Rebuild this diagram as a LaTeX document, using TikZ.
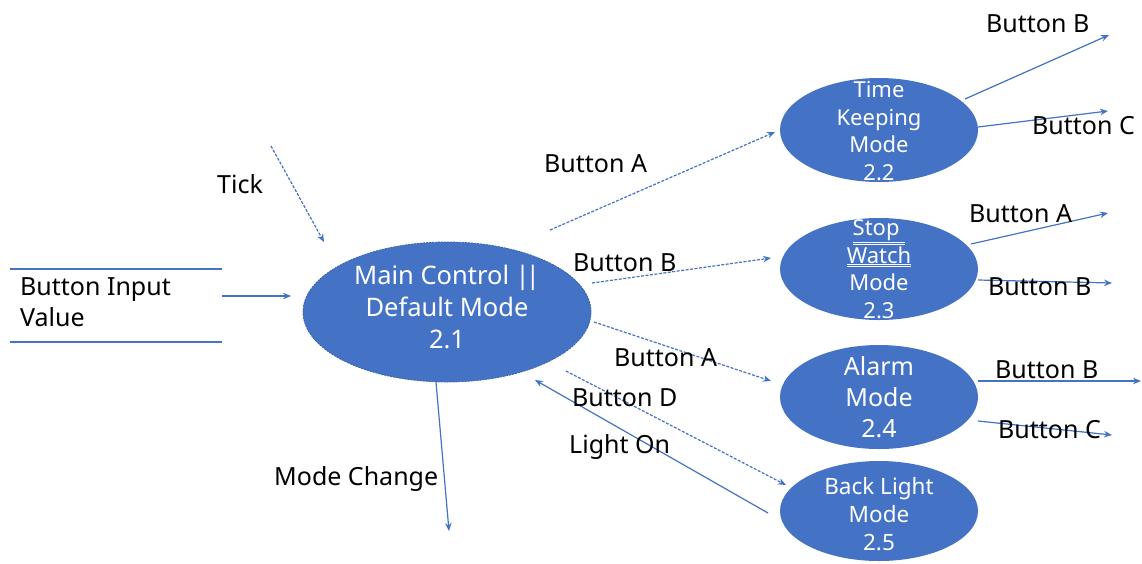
\documentclass[tikz,border=0pt]{standalone}
\usepackage{fontspec}
\setmainfont{Noto Sans}
\usetikzlibrary{arrows.meta,shapes.geometric}
\definecolor{blu}{HTML}{4472C4}
\definecolor{bord}{HTML}{3A62AC}
\begin{document}
\begin{tikzpicture}[x=1pt,y=-1pt,
  proc/.style={ellipse,fill=blu,inner sep=0pt},
  mainproc/.style={proc,draw=bord,line width=0.8pt,dash pattern=on 2pt off 1pt},
  wtxt/.style={text=white,font=\fontsize{22}{27.5}\selectfont,align=center,inner sep=0pt},
  btxt/.style={text=black,font=\fontsize{25}{31}\selectfont,inner sep=0pt,anchor=west},
  flow/.style={draw=blu,line width=1.2pt,-{Stealth[length=8pt,width=6.5pt]}},
  dflow/.style={flow,dash pattern=on 3pt off 1.5pt},
  rule/.style={draw=blu,line width=1.3pt}]
\useasboundingbox (0,0) rectangle (1142,563);

% processes
\node[mainproc,minimum width=288pt,minimum height=140pt] (main) at (447,312) {};
\node[wtxt,font=\fontsize{25.5}{32}\selectfont] (maint) at (447,307) {Main Control |\kern-4pt|\\Default Mode\\2.1};
\node[proc,minimum width=198pt,minimum height=104pt] (tk) at (879,130) {};
\node[wtxt] (tkt) at (879,131) {Time\\Keeping\\Mode\\2.2};
\node[proc,minimum width=198pt,minimum height=102pt] (sw) at (879,269) {};
\node[wtxt] (swt) at (879,269) {\underline{\underline{Stop\ }}\\\underline{\underline{Watch}}\\Mode\\2.3};
\node[proc,minimum width=198pt,minimum height=104pt] (al) at (879,397) {};
\node[wtxt,font=\fontsize{25}{31}\selectfont] (alt) at (879,397) {Alarm\\Mode\\2.4};
\node[proc,minimum width=198pt,minimum height=100pt] (bl) at (879,511) {};
\node[wtxt,font=\fontsize{22.5}{28}\selectfont] (blt) at (879,514) {Back Light\\Mode\\2.5};

% external entity
\coordinate (e1) at (10,269); \coordinate (e2) at (222,269);
\coordinate (e3) at (10,342); \coordinate (e4) at (222,342);
\draw[rule] (e1) -- (e2);
\draw[rule] (e3) -- (e4);
\node[btxt,align=left,anchor=north west] (bin) at (20,277) {Button Input\\Value};

% coordinates
\coordinate (bi1) at (222,296); \coordinate (bi2) at (291,296);
\coordinate (tk1) at (271,146); \coordinate (tk2) at (324,242);
\coordinate (a1) at (550,230); \coordinate (a2) at (775,132);
\coordinate (b1) at (592,283); \coordinate (b2) at (771,258);
\coordinate (c1) at (594,322); \coordinate (c2) at (771,381);
\coordinate (d1) at (566,371); \coordinate (d2) at (786,485);
\coordinate (l1) at (768,513); \coordinate (l2) at (535,380);
\coordinate (m1) at (436,382); \coordinate (m2) at (449,531);
\coordinate (tb1) at (965,99); \coordinate (tb2) at (1109,35);
\coordinate (tc1) at (978,127); \coordinate (tc2) at (1108,111);
\coordinate (sa1) at (971,244); \coordinate (sa2) at (1108,213);
\coordinate (sb1) at (978,280); \coordinate (sb2) at (1112,283);
\coordinate (ab1) at (978,381); \coordinate (ab2) at (1141,381);
\coordinate (ac1) at (978,421); \coordinate (ac2) at (1112,435);

\draw[flow] (bi1) -- (bi2);
\draw[dflow] (tk1) -- (tk2);
\draw[dflow] (a1) -- (a2);
\draw[dflow] (b1) -- (b2);
\draw[dflow] (c1) -- (c2);
\draw[dflow] (d1) -- (d2);
\draw[flow] (l1) -- (l2);
\draw[flow] (m1) -- (m2);
\draw[flow] (tb1) -- (tb2);
\draw[flow] (tc1) -- (tc2);
\draw[flow] (sa1) -- (sa2);
\draw[flow] (sb1) -- (sb2);
\draw[flow] (ab1) -- (ab2);
\draw[flow] (ac1) -- (ac2);

% labels
\node[btxt] (ltick) at (217,184) {Tick};
\node[btxt] (lba) at (544,164) {Button A};
\node[btxt] (lbb) at (573,263) {Button B};
\node[btxt] (lba2) at (614,358) {Button A};
\node[btxt] (lbd) at (572,398) {Button D};
\node[btxt] (llo) at (569,447) {Light On};
\node[btxt] (lmc) at (274,479) {Mode Change};
\node[btxt] (ltb) at (986,24) {Button B};
\node[btxt] (ltc) at (1032,126) {Button C};
\node[btxt] (lsa) at (969,214) {Button A};
\node[btxt] (lsb) at (988,287) {Button B};
\node[btxt] (lab) at (995,370) {Button B};
\node[btxt] (lac) at (998,430) {Button C};
\end{tikzpicture}
\end{document}
